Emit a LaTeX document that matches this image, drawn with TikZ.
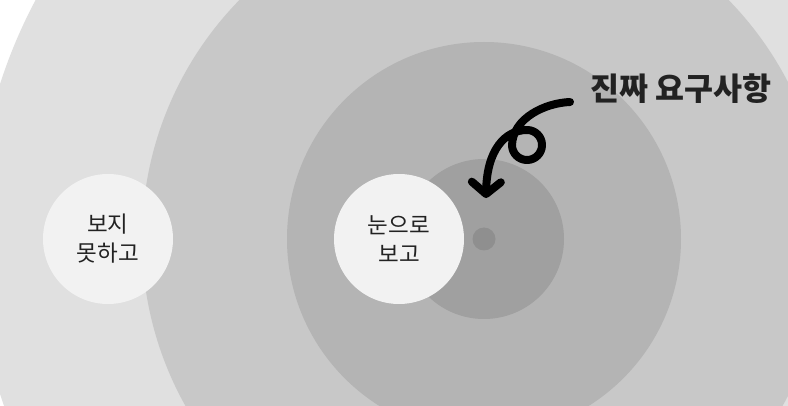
\documentclass[tikz,border=0pt]{standalone}
\usepackage{fontspec}
\newfontfamily\kr{Noto Sans CJK KR}
\usetikzlibrary{arrows.meta}
\definecolor{ringA}{HTML}{E0E0E0}
\definecolor{ringB}{HTML}{C8C8C8}
\definecolor{ringC}{HTML}{B4B4B4}
\definecolor{ringD}{HTML}{A0A0A0}
\definecolor{coreC}{HTML}{8F8F8F}
\definecolor{bubbleC}{HTML}{F2F2F2}
\definecolor{inkC}{HTML}{222222}

\begin{document}
\begin{tikzpicture}[x=1pt, y=-1pt,
		bubble/.style={circle, fill=bubbleC, minimum size=130pt, inner sep=0pt, align=center, text=inkC, font=\kr\fontsize{22.5}{29}\selectfont},
		title/.style={text=inkC, inner sep=0pt, font=\kr\bfseries\fontsize{31.5}{34}\selectfont},
		arrowline/.style={line width=8pt, line cap=round, line join=round, -{Straight Barb[length=12pt, width=29pt, line cap=round, line join=round]}}]
		\useasboundingbox (0,0) rectangle (788,406);
		\fill[white] (0,0) rectangle (788,406);
		% rings
		\begin{scope}
			\clip (0,0) rectangle (788,406);
			\fill[ringA] (484,239) circle[radius=508pt];
			\fill[ringB] (484,239) circle[radius=342pt];
			\fill[ringC] (484,239) circle[radius=197pt];
			\fill[ringD] (484,239) circle[radius=80pt];
		\end{scope}
		\node[circle, fill=coreC, minimum size=23pt, inner sep=0pt] (core) at (484,239) {};
		% bubbles
		\node[bubble] (unseen) at (108,239) {보지\\못하고};
		\node[bubble] (seen) at (399,239) {눈으로\\보고};
		% label and arrow
		\node[title] (need) at (681,89) {진짜 요구사항};
		\coordinate (tail) at (570,102);
		\coordinate (tip) at (486,198);
		\draw[arrowline] (tail) .. controls (545,103) and (513,118) .. (512,145)
			arc[start angle=180, end angle=450, radius=15pt]
			.. controls (505,130) and (487,150) .. (tip);
\end{tikzpicture}
\end{document}
